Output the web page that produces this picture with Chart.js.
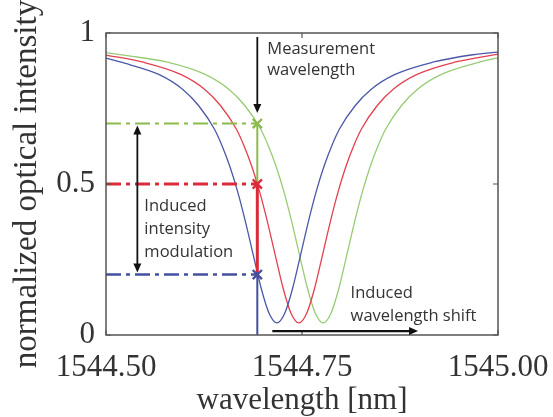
<!DOCTYPE html>
<html>
<head>
<meta charset="utf-8">
<script src="https://cdn.jsdelivr.net/npm/chart.js@4.4.1/dist/chart.umd.min.js"></script>
<style>
html,body{margin:0;padding:0;background:#fff;}
#wrap{width:553px;height:417px;position:relative;}
</style>
</head>
<body>
<div id="wrap"><canvas id="c" width="553" height="417"></canvas></div>
<script>
// ---- data ----
const xTickValues = [1544.50, 1544.75, 1545.00];
const xTickLabels = ["1544.50", "1544.75", "1545.00"];
const yTickValues = [0, 0.5, 1];
const yTickLabels = ["0", "0.5", "1"];

const blueWl = [1544.500,1544.518,1544.568,1544.598,1544.618,1544.638,1544.648,1544.658,1544.668,1544.678,1544.688,1544.698,1544.708,1544.718,1544.728,1544.738,1544.748,1544.758,1544.768,1544.778,1544.788,1544.798,1544.818,1544.838,1544.868,1544.918,1544.968,1545.000];
const blueI  = [0.917,0.904,0.862,0.813,0.760,0.683,0.627,0.558,0.474,0.374,0.263,0.154,0.072,0.040,0.072,0.154,0.263,0.374,0.474,0.558,0.627,0.683,0.760,0.813,0.862,0.904,0.928,0.937];

const redWl = [1544.500,1544.546,1544.596,1544.626,1544.646,1544.666,1544.676,1544.686,1544.696,1544.706,1544.716,1544.726,1544.736,1544.746,1544.756,1544.766,1544.776,1544.786,1544.796,1544.806,1544.816,1544.826,1544.846,1544.866,1544.896,1544.946,1545.000];
const redI  = [0.927,0.904,0.862,0.813,0.760,0.683,0.627,0.558,0.474,0.374,0.263,0.154,0.072,0.040,0.072,0.154,0.263,0.374,0.474,0.558,0.627,0.683,0.760,0.813,0.862,0.904,0.930];

const greenWl = [1544.500,1544.527,1544.577,1544.627,1544.657,1544.677,1544.697,1544.707,1544.717,1544.727,1544.737,1544.747,1544.757,1544.767,1544.777,1544.787,1544.797,1544.807,1544.817,1544.827,1544.837,1544.847,1544.857,1544.877,1544.897,1544.927,1544.977,1545.000];
const greenI  = [0.935,0.925,0.904,0.862,0.813,0.760,0.683,0.627,0.558,0.474,0.374,0.263,0.154,0.072,0.040,0.072,0.154,0.263,0.374,0.474,0.558,0.627,0.683,0.760,0.813,0.862,0.904,0.918];

const measurementWl = 1544.693;
const levelNames  = ["blue", "red", "green"];
const levelValues = [0.2, 0.5, 0.7];

// ---- styles ----
const C = {
  blueCurve: "#4b58a6", redCurve: "#e2404f", greenCurve: "#98cc74",
  blueLine: "#43509f", redLine: "#db2a3a", greenLine: "#8bbb4c",
  text: "#333", axis: "#555"
};
const serif = "'Liberation Serif','Times New Roman',serif";
const sans = "'Open Sans','Liberation Sans',sans-serif";

const pts = (xs, ys) => xs.map((x, i) => ({x, y: ys[i]}));
const dashDot = [15, 5, 4, 5];

function curve(label, xs, ys, color) {
  return {label, data: pts(xs, ys), borderColor: color, borderWidth: 1.3,
    pointRadius: 0, showLine: true, cubicInterpolationMode: "monotone", order: 5};
}
function hLine(label, y, color, w) {
  return {label, data: [{x: xTickValues[0], y}, {x: measurementWl, y}], borderColor: color,
    borderWidth: w, borderDash: dashDot, pointRadius: 0, showLine: true, order: 3};
}
function vLine(label, y0, y1, color, w) {
  return {label, data: [{x: measurementWl, y: y0}, {x: measurementWl, y: y1}], borderColor: color,
    borderWidth: w, pointRadius: 0, showLine: true, order: 2};
}
function marker(label, y, color) {
  return {label, data: [{x: measurementWl, y}], borderColor: color, backgroundColor: color,
    pointStyle: "crossRot", pointRadius: 6.5, borderWidth: 2.4, showLine: false, order: 1};
}

const datasets = [
  curve("blue", blueWl, blueI, C.blueCurve),
  curve("red", redWl, redI, C.redCurve),
  curve("green", greenWl, greenI, C.greenCurve),
  hLine("green level", levelValues[2], C.greenLine, 2),
  hLine("red level", levelValues[1], C.redLine, 3),
  hLine("blue level", levelValues[0], C.blueLine, 2.5),
  vLine("green drop", levelValues[2], levelValues[1], C.greenLine, 2),
  vLine("red drop", levelValues[1], levelValues[0], C.redLine, 3),
  vLine("blue drop", levelValues[0], 0, C.blueLine, 2),
  marker("green mark", levelValues[2], C.greenLine),
  marker("red mark", levelValues[1], C.redLine),
  marker("blue mark", levelValues[0], C.blueLine)
];

function arrowHead(ctx, x, y, dir) {
  ctx.beginPath();
  const L = 9, W = 4;
  if (dir === "down") { ctx.moveTo(x, y); ctx.lineTo(x - W, y - L); ctx.lineTo(x + W, y - L); }
  if (dir === "up")   { ctx.moveTo(x, y); ctx.lineTo(x - W, y + L); ctx.lineTo(x + W, y + L); }
  if (dir === "right"){ ctx.moveTo(x, y); ctx.lineTo(x - L, y - W); ctx.lineTo(x - L, y + W); }
  ctx.closePath(); ctx.fill();
}

const decor = {
  id: "decor",
  afterDatasetsDraw(chart) {
    const ctx = chart.ctx, a = chart.chartArea;
    const xs = chart.scales.x, ys = chart.scales.y;
    ctx.save();
    ctx.strokeStyle = C.axis; ctx.lineWidth = 1.5;
    ctx.strokeRect(a.left, a.top, a.right - a.left, a.bottom - a.top);
    ctx.lineWidth = 1.2;
    xTickValues.forEach(v => {
      const px = xs.getPixelForValue(v);
      ctx.beginPath(); ctx.moveTo(px, a.bottom); ctx.lineTo(px, a.bottom - 5);
      ctx.moveTo(px, a.top); ctx.lineTo(px, a.top + 5); ctx.stroke();
    });
    yTickValues.forEach(v => {
      const py = ys.getPixelForValue(v);
      ctx.beginPath(); ctx.moveTo(a.right, py); ctx.lineTo(a.right - 5, py);
      ctx.moveTo(a.left, py); ctx.lineTo(a.left + 5, py); ctx.stroke();
    });
    ctx.strokeStyle = "#111"; ctx.fillStyle = "#111"; ctx.lineWidth = 1.8;
    const mx = xs.getPixelForValue(measurementWl);
    ctx.beginPath(); ctx.moveTo(mx, a.top + 4); ctx.lineTo(mx, ys.getPixelForValue(0.745)); ctx.stroke();
    arrowHead(ctx, mx, ys.getPixelForValue(0.735), "down");
    const ax = xs.getPixelForValue(1544.54);
    const yTop = ys.getPixelForValue(levelValues[2]) + 2, yBot = ys.getPixelForValue(levelValues[0]) - 2;
    ctx.beginPath(); ctx.moveTo(ax, yTop + 6); ctx.lineTo(ax, yBot - 6); ctx.stroke();
    arrowHead(ctx, ax, yTop, "up"); arrowHead(ctx, ax, yBot, "down");
    const sy = ys.getPixelForValue(0.013);
    const sx0 = mx + 15, sx1 = xs.getPixelForValue(1544.898);
    ctx.lineWidth = 2.2;
    ctx.beginPath(); ctx.moveTo(sx0, sy); ctx.lineTo(sx1 - 6, sy); ctx.stroke();
    arrowHead(ctx, sx1, sy, "right");
    ctx.fillStyle = C.text; ctx.font = "16.5px " + sans;
    ctx.textAlign = "left"; ctx.textBaseline = "middle";
    ctx.fillText("Measurement", mx + 10, 49);
    ctx.fillText("wavelength", mx + 10, 70);
    const tx = ax + 7;
    ctx.fillText("Induced", tx, 206);
    ctx.fillText("intensity", tx, 229);
    ctx.fillText("modulation", tx, 252);
    const wx = xs.getPixelForValue(1544.812);
    ctx.fillText("Induced", wx, 293);
    ctx.fillText("wavelength shift", wx, 316);
    ctx.restore();
  }
};

new Chart(document.getElementById("c"), {
  type: "scatter",
  data: {datasets},
  options: {
    responsive: false,
    animation: false,
    layout: {padding: {left: 0, top: 33, right: 55, bottom: 0}},
    plugins: {legend: {display: false}, tooltip: {enabled: false}},
    scales: {
      x: {
        type: "linear", min: xTickValues[0], max: xTickValues[xTickValues.length - 1],
        afterBuildTicks: s => { s.ticks = xTickValues.map(v => ({value: v})); },
        afterFit: s => { s.height = 82; s.paddingLeft = 0; s.paddingRight = 0; },
        grid: {display: false, drawTicks: false},
        border: {display: false},
        ticks: {
          callback: (v) => xTickLabels[xTickValues.indexOf(v)] ?? "",
          font: {family: serif, size: 31}, color: "#333", padding: 14, maxRotation: 0, autoSkip: false
        },
        title: {display: true, text: "wavelength [nm]", font: {family: serif, size: 31, lineHeight: 1.05},
          color: "#333", padding: {top: 0, bottom: 0}}
      },
      y: {
        type: "linear", min: 0, max: 1,
        afterBuildTicks: s => { s.ticks = yTickValues.map(v => ({value: v})); },
        afterFit: s => { s.width = 106; s.paddingTop = 0; s.paddingBottom = 0; },
        grid: {display: false, drawTicks: false},
        border: {display: false},
        ticks: {
          callback: (v) => yTickLabels[yTickValues.indexOf(v)] ?? "",
          font: {family: serif, size: 31}, color: "#333", padding: 11
        },
        title: {display: true, text: "normalized optical intensity", font: {family: serif, size: 33},
          color: "#333", padding: {top: 8, bottom: 0}}
      }
    }
  },
  plugins: [decor]
});
</script>
</body>
</html>
